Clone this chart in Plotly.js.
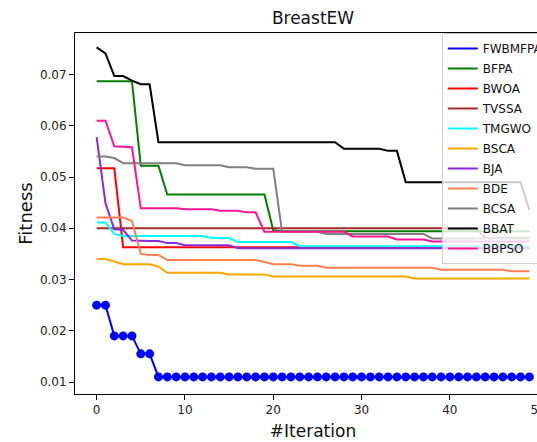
<!DOCTYPE html>
<html><head><meta charset="utf-8">
<script src="https://cdn.plot.ly/plotly-3.0.1.min.js"></script>
<style>html,body{margin:0;padding:0;overflow:hidden;background:#fff;width:537px;height:442px}#chart{width:560px;height:442px}</style>
</head><body><div id="chart"></div>
<script>
const iterations = [0,1,2,3,4,5,6,7,8,9,10,11,12,13,14,15,16,17,18,19,20,21,22,23,24,25,26,27,28,29,30,31,32,33,34,35,36,37,38,39,40,41,42,43,44,45,46,47,48,49];
const seriesNames = ["FWBMFPA","BFPA","BWOA","TVSSA","TMGWO","BSCA","BJA","BDE","BCSA","BBAT","BBPSO"];
const seriesColors = ["#0000FF","#008000","#FF0000","#A52A2A","#00FFFF","#FFA500","#8A2BE2","#FF7F50","#808080","#000000","#FF1493"];
const FWBMFPA = [0.025,0.025,0.019,0.019,0.019,0.0155,0.0155,0.011,0.011,0.011,0.011,0.011,0.011,0.011,0.011,0.011,0.011,0.011,0.011,0.011,0.011,0.011,0.011,0.011,0.011,0.011,0.011,0.011,0.011,0.011,0.011,0.011,0.011,0.011,0.011,0.011,0.011,0.011,0.011,0.011,0.011,0.011,0.011,0.011,0.011,0.011,0.011,0.011,0.011,0.011];
const BFPA = [0.0687,0.0687,0.0687,0.0687,0.0687,0.0522,0.0522,0.0522,0.0466,0.0466,0.0466,0.0466,0.0466,0.0466,0.0466,0.0466,0.0466,0.0466,0.0466,0.0466,0.0396,0.0394,0.0394,0.0394,0.0394,0.0394,0.0394,0.0394,0.0394,0.0394,0.0394,0.0394,0.0394,0.0394,0.0394,0.0394,0.0394,0.0394,0.0394,0.0394,0.0394,0.0394,0.0394,0.0394,0.0394,0.0394,0.0394,0.0394,0.0394,0.0394];
const BWOA = [0.0517,0.0517,0.0517,0.0363,0.0363,0.0363,0.0363,0.0363,0.0363,0.0363,0.0363,0.0363,0.0363,0.0363,0.0363,0.0363,0.0363,0.0363,0.0363,0.0363,0.0363,0.0363,0.0363,0.0363,0.0363,0.0363,0.0363,0.0363,0.0363,0.0363,0.0363,0.0363,0.0363,0.0363,0.0363,0.0363,0.0363,0.0363,0.0363,0.0363,0.0363,0.0363,0.0363,0.0363,0.0363,0.0363,0.0363,0.0363,0.0363,0.0363];
const TVSSA = [0.0400,0.0400,0.0400,0.0400,0.0400,0.0400,0.0400,0.0400,0.0400,0.0400,0.0400,0.0400,0.0400,0.0400,0.0400,0.0400,0.0400,0.0400,0.0400,0.0400,0.0400,0.0400,0.0400,0.0400,0.0400,0.0400,0.0400,0.0400,0.0400,0.0400,0.0400,0.0400,0.0400,0.0400,0.0400,0.0400,0.0400,0.0400,0.0400,0.0400,0.0400,0.0400,0.0400,0.0400,0.0381,0.0381,0.0381,0.0381,0.0381,0.0381];
const TMGWO = [0.0411,0.0411,0.0389,0.0385,0.0385,0.0385,0.0385,0.0385,0.0385,0.0385,0.0385,0.0385,0.0385,0.0381,0.0381,0.0381,0.0373,0.0373,0.0373,0.0373,0.0373,0.0373,0.0373,0.0365,0.0365,0.0365,0.0365,0.0365,0.0365,0.0365,0.0365,0.0365,0.0365,0.0365,0.0365,0.0365,0.0365,0.0365,0.0365,0.0365,0.0365,0.0365,0.0365,0.0365,0.0365,0.0365,0.0365,0.0365,0.0365,0.0365];
const BSCA = [0.0340,0.0340,0.0335,0.0330,0.0330,0.0330,0.0330,0.0325,0.0313,0.0313,0.0313,0.0313,0.0313,0.0313,0.0313,0.0310,0.0310,0.0310,0.0310,0.0310,0.0306,0.0306,0.0306,0.0306,0.0306,0.0306,0.0306,0.0306,0.0306,0.0306,0.0306,0.0306,0.0306,0.0306,0.0306,0.0306,0.0302,0.0302,0.0302,0.0302,0.0302,0.0302,0.0302,0.0302,0.0302,0.0302,0.0302,0.0302,0.0302,0.0302];
const BJA = [0.0578,0.0449,0.0398,0.0397,0.0376,0.0375,0.0375,0.0375,0.0371,0.0371,0.0367,0.0367,0.0367,0.0367,0.0367,0.0367,0.0361,0.0361,0.0361,0.0361,0.0361,0.0361,0.0361,0.0361,0.0361,0.0361,0.0361,0.0361,0.0361,0.0361,0.0361,0.0361,0.0361,0.0361,0.0361,0.0361,0.0361,0.0361,0.0361,0.0361,0.0361,0.0361,0.0361,0.0361,0.0361,0.0361,0.0361,0.0361,0.0361,0.0361];
const BDE = [0.0421,0.0421,0.0421,0.0421,0.0414,0.0350,0.0348,0.0348,0.0338,0.0338,0.0338,0.0338,0.0338,0.0338,0.0338,0.0338,0.0338,0.0338,0.0338,0.0334,0.0330,0.0330,0.0330,0.0327,0.0327,0.0327,0.0323,0.0323,0.0323,0.0323,0.0323,0.0323,0.0323,0.0323,0.0323,0.0323,0.0323,0.0323,0.0323,0.0319,0.0319,0.0319,0.0319,0.0319,0.0319,0.0319,0.0319,0.0316,0.0316,0.0316];
const BCSA = [0.0540,0.0540,0.0537,0.0527,0.0527,0.0527,0.0527,0.0527,0.0527,0.0527,0.0523,0.0523,0.0523,0.0523,0.0523,0.0519,0.0519,0.0519,0.0516,0.0516,0.0516,0.0393,0.0393,0.0393,0.0393,0.0393,0.0389,0.0389,0.0389,0.0389,0.0389,0.0389,0.0389,0.0389,0.0389,0.0389,0.0389,0.0389,0.0380,0.0380,0.0380,0.0380,0.0380,0.0380,0.0380,0.0380,0.0380,0.0380,0.0380,0.0380];
const BBAT = [0.0753,0.0741,0.0697,0.0697,0.0688,0.0681,0.0681,0.0568,0.0568,0.0568,0.0568,0.0568,0.0568,0.0568,0.0568,0.0568,0.0568,0.0568,0.0568,0.0568,0.0568,0.0568,0.0568,0.0568,0.0568,0.0568,0.0568,0.0568,0.0555,0.0555,0.0555,0.0555,0.0555,0.0551,0.0551,0.0490,0.0490,0.0490,0.0490,0.0490,0.0490,0.0490,0.0490,0.0490,0.0490,0.0490,0.0490,0.0490,0.0490,0.0436];
const BBPSO = [0.0610,0.0610,0.0560,0.0559,0.0558,0.0439,0.0439,0.0439,0.0439,0.0439,0.0437,0.0437,0.0437,0.0437,0.0434,0.0434,0.0434,0.0431,0.0431,0.0393,0.0393,0.0393,0.0393,0.0393,0.0393,0.0393,0.0393,0.0393,0.0393,0.0384,0.0384,0.0384,0.0384,0.0384,0.0378,0.0378,0.0378,0.0378,0.0374,0.0374,0.0374,0.0374,0.0374,0.0374,0.0374,0.0374,0.0374,0.0374,0.0374,0.0374];
const xTicks = [0,10,20,30,40,50];
const yTicks = [0.01,0.02,0.03,0.04,0.05,0.06,0.07];
const yTickText = ["0.01","0.02","0.03","0.04","0.05","0.06","0.07"];

const seriesValues = [FWBMFPA,BFPA,BWOA,TVSSA,TMGWO,BSCA,BJA,BDE,BCSA,BBAT,BBPSO];
const FONT = "DejaVu Sans, sans-serif";
const traces = [];
seriesNames.forEach((nm, k) => {
  traces.push({x: iterations, y: seriesValues[k], mode: 'lines', name: nm, legendgroup: nm,
    line: {color: seriesColors[k], width: 2}, hoverinfo: 'skip'});
  if (k === 0) {
    traces.push({x: iterations, y: seriesValues[k], mode: 'markers', name: nm, legendgroup: nm, showlegend: false,
      marker: {color: seriesColors[k], size: 9}, hoverinfo: 'skip'});
  }
});

const axisBase = {showgrid: false, zeroline: false, showline: true, mirror: true, linecolor: '#000', linewidth: 1,
  ticks: 'outside', ticklen: 5, tickwidth: 1, tickcolor: '#000', tickfont: {family: FONT, size: 12, color: '#222'}};

const layout = {
  width: 560, height: 442,
  margin: {l: 75, r: 9, t: 33, b: 48, pad: 0},
  paper_bgcolor: '#fff', plot_bgcolor: '#fff',
  font: {family: FONT, color: '#111'},
  title: {text: 'BreastEW', font: {family: FONT, size: 17, color: '#111'}, x: 0.5, xref: 'paper', xanchor: 'center', y: 1 - 18/442, yanchor: 'middle'},
  xaxis: Object.assign({}, axisBase, {range: [-2.45, 51.45], tickvals: xTicks,
    title: {text: '#Iteration', font: {family: FONT, size: 17, color: '#111'}, standoff: 8}}),
  yaxis: Object.assign({}, axisBase, {range: [0.00766, 0.0781], tickvals: yTicks, ticktext: yTickText,
    title: {text: 'Fitness', font: {family: FONT, size: 18, color: '#111'}, standoff: 2}}),
  legend: {x: 0.7705, y: 1.0, xanchor: 'left', yanchor: 'top', bgcolor: 'rgba(255,255,255,0.8)',
    bordercolor: '#d0d0d0', borderwidth: 1, font: {family: FONT, size: 12, color: '#111'}, tracegroupgap: 1},
  showlegend: true
};
Plotly.newPlot('chart', traces, layout, {displayModeBar: false, staticPlot: true});
</script></body></html>
